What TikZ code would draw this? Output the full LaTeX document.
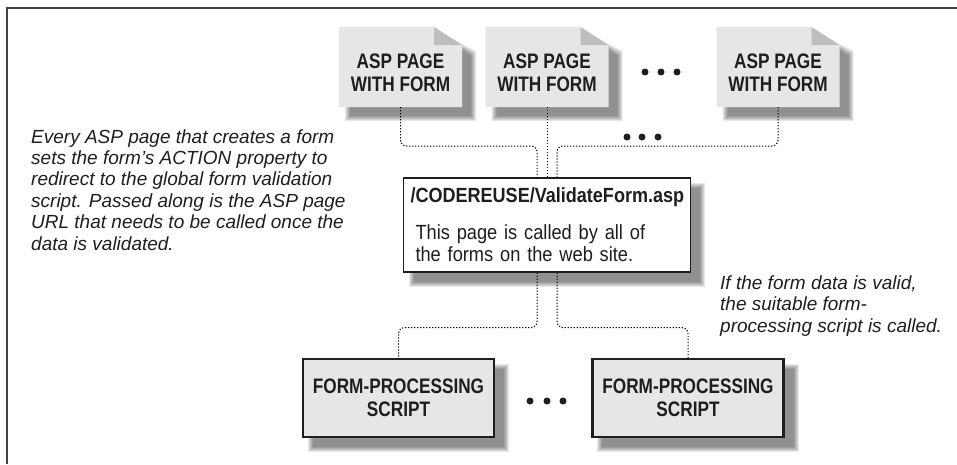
\documentclass[tikz,border=0pt]{standalone}
\usepackage{fontspec}
\setmainfont{Liberation Sans}
\newfontfamily\condbold{Liberation Sans}[FakeStretch=0.82]
\newfontfamily\titlebold{Liberation Sans}[FakeStretch=0.88]
\newfontfamily\bodysans{Liberation Sans}[FakeStretch=0.89]
\usetikzlibrary{calc,backgrounds}

\definecolor{ink}{HTML}{1E1E1E}
\definecolor{sheet}{HTML}{E6E6E6}
\definecolor{fold}{HTML}{BEBEBE}
\definecolor{framegray}{HTML}{444444}

\tikzset{
  labelfont/.style={font=\condbold\bfseries\fontsize{21}{23}\selectfont},
  pagebox/.style={minimum width=123pt, minimum height=80pt, inner sep=0pt, outer sep=0pt},
  pagetext/.style={labelfont, text=ink, align=center, inner sep=0pt, yshift=-5.5pt},
  procbox/.style={labelfont, text=ink, align=center, draw=ink, line width=2.4pt,
    fill=sheet, minimum width=191pt, minimum height=78pt, inner sep=0pt},
  validbox/.style={font=\bodysans\fontsize{20.5}{22}\selectfont, text=ink,
    draw=ink, line width=1.3pt, fill=white, minimum width=287pt, minimum height=94pt,
    text width=273pt, inner xsep=7pt, align=left},
  note/.style={font=\itshape\fontsize{19}{21.4}\selectfont, text=ink, align=left, inner sep=0pt},
  link/.style={draw=black, line width=1pt, dash pattern=on 1.3pt off 1.7pt, rounded corners=6pt},
  shadowlayer/.style={fill=black, fill opacity=0.09, draw=none},
  ellipsisdot/.style={fill=ink},
  frameline/.style={draw=framegray, line width=2pt, miter limit=10}
}

% soft drop shadow under a rectangular node
\newcommand\shadowbox[1]{%
  \foreach \i in {0,...,5}{%
    \fill[shadowlayer] ($(#1.north west)+(6+\i,6+\i)$) rectangle ($(#1.south east)+(14-\i,14-\i)$);
  }}

% page sheet with a folded top-right corner and its shadow
\newcommand\pagesheet[1]{%
  \foreach \i in {0,...,5}{%
    \fill[shadowlayer] ($(#1.north west)+(6+\i,6+\i)$)
      -- ($(#1.north east)+(-22+\i,6+\i)$)
      -- ($(#1.north east)+(14-\i,24+\i)$)
      -- ($(#1.south east)+(14-\i,14-\i)$)
      -- ($(#1.south west)+(6+\i,14-\i)$) -- cycle;
  }%
  \fill[sheet] (#1.north west) -- ($(#1.north east)+(-28,0)$) -- ($(#1.north east)+(0,18)$)
    -- (#1.south east) -- (#1.south west) -- cycle;
  \fill[fold] ($(#1.north east)+(-28,0)$) -- ($(#1.north east)+(0,18)$)
    -- ($(#1.north east)+(-28,18)$) -- cycle;
}

\begin{document}
\begin{tikzpicture}[x=1pt,y=-1pt]
\useasboundingbox (0,0) rectangle (957,464);

% frame
\draw[frameline] (7,464) -- (7,7.7) -- (957,7.7);

% pages with forms
\node[pagebox, label={[pagetext]center:ASP PAGE\\WITH FORM}] (p1) at (400.5,67) {};
\node[pagebox, label={[pagetext]center:ASP PAGE\\WITH FORM}] (p2) at (547,67) {};
\node[pagebox, label={[pagetext]center:ASP PAGE\\WITH FORM}] (p3) at (778,67) {};

% validation script
\node[validbox] (val) at (547,225) {{\titlebold\bfseries /CODEREUSE/ValidateForm.asp}\\[15pt]
  \hspace*{5pt}This page is called by all of\\
  \hspace*{5pt}the forms on the web site.};

% processing scripts
\node[procbox] (fp1) at (398.5,398) {FORM-PROCESSING\\SCRIPT};
\node[procbox] (fp2) at (688,398) {FORM-PROCESSING\\SCRIPT};

\begin{pgfonlayer}{background}
  \pagesheet{p1}\pagesheet{p2}\pagesheet{p3}
  \shadowbox{val}\shadowbox{fp1}\shadowbox{fp2}
\end{pgfonlayer}

% connectors
\draw[link] (p1.south) -- ++(0,39) -| ([xshift=-10pt]val.north);
\draw[link] (p2.south) -- (val.north);
\draw[link] (p3.south) -- ++(0,39) -| ([xshift=10pt]val.north);
\draw[link] ([xshift=-10pt]val.south) -- ++(0,55) -| (fp1.north);
\draw[link] ([xshift=10pt]val.south) -- ++(0,55) -| (fp2.north);

% ellipses
\foreach \x in {645,661,677} \fill[ellipsisdot] (\x,72) circle (3.5pt);
\foreach \x in {627,642,658} \fill[ellipsisdot] (\x,137) circle (3.5pt);
\foreach \x in {530,547,563} \fill[ellipsisdot] (\x,401) circle (3.5pt);

% notes (anchored at the baseline of their last line)
\node[note, anchor=base west] (leftnote) at (31,250) {Every ASP page that creates a form\\
  sets the form's ACTION property to\\
  redirect to the global form validation\\
  script. Passed along is the ASP page\\
  URL that needs to be called once the\\
  data is validated.};
\node[note, anchor=base west] (rightnote) at (720,332) {If the form data is valid,\\
  the suitable form-\\
  processing script is called.};
\end{tikzpicture}
\end{document}
